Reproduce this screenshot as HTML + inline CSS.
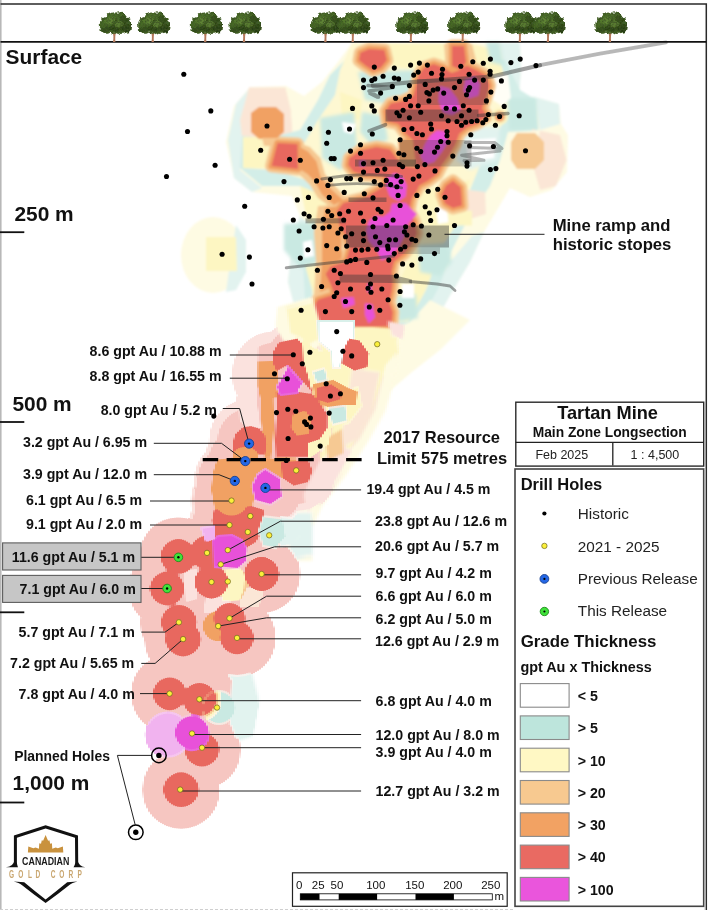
<!DOCTYPE html><html><head><meta charset="utf-8"><title>Tartan Mine Longsection</title>
<style>html,body{margin:0;padding:0;background:#fff}svg{display:block;opacity:0.999;font-family:"Liberation Sans",sans-serif}.b{font-weight:bold}.g{font-size:14.2px;font-weight:bold;fill:#111}.d{font-size:20.9px;font-weight:bold;fill:#111}.l{font-size:15.3px;fill:#222}.ln{stroke:#222;stroke-width:1;fill:none}</style></head><body>
<svg width="710" height="910" viewBox="0 0 710 910">
<defs>
<filter id="bl" x="-5%" y="-5%" width="110%" height="110%"><feGaussianBlur stdDeviation="0.9"/></filter>
<filter id="bl2" x="-5%" y="-5%" width="110%" height="110%"><feGaussianBlur stdDeviation="1.6"/></filter>
<filter id="tb" x="-10%" y="-10%" width="120%" height="120%"><feGaussianBlur stdDeviation="0.45"/></filter>
<filter id="px" x="120" y="292.5" width="290" height="547.5" filterUnits="userSpaceOnUse" primitiveUnits="userSpaceOnUse"><feFlood x="121" y="293.5" width="1" height="1" flood-color="#000"/><feComposite x="120" y="292.5" width="2.5" height="2.5" operator="over"/><feTile x="120" y="292.5" width="290" height="547.5" result="grid"/><feComposite in="SourceGraphic" in2="grid" operator="in"/><feMorphology operator="dilate" radius="1.25"/></filter>
<filter id="leaf" x="-15%" y="-15%" width="130%" height="130%"><feTurbulence type="fractalNoise" baseFrequency="0.22" numOctaves="2" seed="7" result="n"/><feDisplacementMap in="SourceGraphic" in2="n" scale="4.2" xChannelSelector="R" yChannelSelector="G" result="d"/><feTurbulence type="fractalNoise" baseFrequency="0.55" numOctaves="2" seed="3" result="n2"/><feColorMatrix in="n2" type="matrix" values="0 0 0 0 0.05  0 0 0 0 0.09  0 0 0 0 0.02  0 0 0 2.6 -1.0" result="dk"/><feComposite in="dk" in2="d" operator="in" result="dk2"/><feMerge result="m"><feMergeNode in="d"/><feMergeNode in="dk2"/></feMerge><feGaussianBlur in="m" stdDeviation="0.35"/></filter>
<symbol id="tree" viewBox="0 0 34.4 33" width="34.4" height="33" overflow="visible">
<path d="M15.5,32.6 C16.2,28 16.1,25.5 14.8,21.5 L16.8,23.4 L18.9,20.5 C17.8,25 17.5,28 17.9,32.6Z" fill="#b4785a"/>
<g filter="url(#leaf)" transform="translate(-0.4,1.5) scale(1.06,1.0)">
<path d="M3,15 C1.5,10 5,6.5 8.5,6 C10,2.5 15,0.8 18.5,2 C22,0.5 27,3 28,6.5 C32,8 34,12 32.5,16 C33.5,19.5 30,22.5 27,21.5 C25,23.5 21,23 19.5,21.5 C17.5,23.5 14,23 12.5,21.5 C9.5,24 5,22.5 4.5,19.5 C2.5,18.5 2.3,16.5 3,15Z" fill="#3f5d23"/>
<ellipse cx="8.5" cy="14.5" rx="6" ry="5.5" fill="#476928"/>
<ellipse cx="26.5" cy="14.5" rx="6.5" ry="6.5" fill="#2e4718"/>
<ellipse cx="17" cy="6.5" rx="8" ry="4.5" fill="#4b6e2a"/>
<ellipse cx="12" cy="10" rx="4.5" ry="3.5" fill="#5e8336"/>
<ellipse cx="21" cy="12.5" rx="4.2" ry="3.2" fill="#587a31"/>
<ellipse cx="24.5" cy="7.5" rx="3.6" ry="2.8" fill="#34501c"/>
<ellipse cx="16" cy="17.5" rx="5" ry="3.3" fill="#2a4214"/>
<ellipse cx="7.5" cy="18.5" rx="3.6" ry="2.6" fill="#324e1b"/>
<ellipse cx="28" cy="18.5" rx="3.4" ry="2.6" fill="#273d13"/>
<ellipse cx="8.5" cy="10.5" rx="2.6" ry="2" fill="#557a2f"/>
<ellipse cx="29.5" cy="12" rx="2.2" ry="2" fill="#41612a"/>
<ellipse cx="18" cy="10" rx="2" ry="1.6" fill="#2f4a18"/>
</g></symbol>
</defs>
<rect width="710" height="910" fill="#fff"/>
<g filter="url(#bl)">
<polygon points="352.0,43.0 520.0,43.0 521.0,70.0 519.0,96.0 538.0,98.0 559.0,104.0 561.0,124.0 568.0,135.0 567.0,172.0 552.0,190.0 530.0,197.0 510.0,188.0 500.0,205.0 484.0,232.0 470.0,262.0 452.0,292.0 436.0,320.0 420.0,345.0 400.0,372.0 385.0,395.0 340.0,400.0 300.0,380.0 290.0,345.0 296.0,312.0 288.0,282.0 292.0,242.0 300.0,216.0 292.0,196.0 252.0,192.0 234.0,178.0 226.0,142.0 234.0,106.0 250.0,87.0 286.0,86.0 304.0,96.0 322.0,82.0 338.0,62.0" fill="#fefbe3" />
<ellipse cx="213" cy="255" rx="32" ry="38" fill="#fefbe3"/>
<polygon points="236.0,225.0 246.0,240.0 246.0,272.0 236.0,290.0 226.0,292.0 232.0,250.0" fill="#e2f3ef" />
<polygon points="206.0,237.0 236.0,237.0 237.0,271.0 206.0,271.0" fill="#fdf6c2" />
<polygon points="500.0,43.0 520.0,43.0 521.0,70.0 519.0,96.0 538.0,98.0 559.0,104.0 560.0,124.0 540.0,130.0 536.0,100.0 508.0,98.0 505.0,70.0" fill="#e2f3ef" />
<polygon points="228.0,140.0 236.0,104.0 250.0,88.0 246.0,130.0 240.0,170.0 262.0,188.0 252.0,192.0 234.0,178.0" fill="#e2f3ef" />
<polygon points="290.0,345.0 296.0,312.0 288.0,282.0 292.0,242.0 300.0,216.0 310.0,225.0 304.0,260.0 306.0,300.0 302.0,340.0 310.0,372.0 300.0,380.0" fill="#e2f3ef" />
<polygon points="452.0,292.0 470.0,262.0 484.0,232.0 472.0,236.0 450.0,262.0 430.0,300.0 410.0,330.0 395.0,360.0 400.0,372.0 420.0,345.0 436.0,320.0" fill="#e2f3ef" />
<polygon points="249.0,87.5 285.5,87.5 291.0,110.0 293.0,135.0 286.0,142.0 242.0,136.0 240.0,120.0" fill="#fbe6d6" />
<polygon points="285.5,87.5 291.0,110.0 293.0,140.0 300.0,150.0 310.0,140.0 305.0,100.0" fill="#fefbe3" />
<polygon points="345.0,60.0 420.0,55.0 505.0,60.0 520.0,90.0 536.0,100.0 538.0,130.0 508.0,132.0 500.0,160.0 490.0,186.0 470.0,215.0 452.0,250.0 440.0,285.0 420.0,322.0 395.0,330.0 330.0,330.0 305.0,300.0 303.0,262.0 310.0,228.0 320.0,200.0 300.0,186.0 262.0,186.0 240.0,168.0 242.0,136.0 270.0,138.0 300.0,130.0 318.0,100.0 330.0,75.0" fill="#d3eee8" />
<polygon points="352.0,43.0 470.0,43.0 498.0,50.0 505.0,80.0 512.0,110.0 500.0,128.0 486.0,150.0 470.0,190.0 458.0,218.0 440.0,250.0 426.0,290.0 408.0,322.0 335.0,325.0 312.0,300.0 314.0,262.0 320.0,232.0 330.0,200.0 306.0,180.0 274.0,170.0 243.0,168.0 243.0,137.0 274.0,137.0 300.0,150.0 318.0,120.0 335.0,95.0 340.0,70.0" fill="#fef8d2" />
<polygon points="340.0,92.0 362.0,100.0 360.0,120.0 342.0,118.0" fill="#fdf6c2" />
<polygon points="386.0,44.0 452.0,44.0 450.0,62.0 420.0,70.0 392.0,66.0" fill="#fdf6c2" />
<polygon points="470.0,44.0 498.0,50.0 504.0,80.0 492.0,74.0 470.0,62.0" fill="#fdf6c2" />
<polygon points="420.0,190.0 470.0,180.0 462.0,215.0 440.0,250.0 428.0,285.0 410.0,320.0 395.0,320.0 400.0,280.0 418.0,240.0" fill="#fdf6c2" />
<polygon points="300.0,186.0 330.0,198.0 322.0,232.0 316.0,262.0 314.0,296.0 304.0,262.0 308.0,225.0" fill="#fdf6c2" />
<polygon points="470.0,320.0 440.0,350.0 412.0,372.0 385.0,395.0 345.0,398.0 350.0,360.0 380.0,335.0 410.0,322.0 430.0,300.0" fill="#fefbe3" />
<polygon points="243.0,137.0 274.0,137.0 274.0,168.0 243.0,168.0" fill="#fdf6c2" />
<g filter="url(#bl2)">
<polygon points="358.0,72.0 420.0,70.0 424.0,100.0 400.0,106.0 365.0,100.0" fill="#c9e9e2" />
<polygon points="362.0,112.0 384.0,116.0 388.0,140.0 372.0,146.0 360.0,132.0" fill="#c9e9e2" />
<polygon points="320.0,118.0 354.0,112.0 358.0,160.0 340.0,170.0 322.0,158.0" fill="#c9e9e2" />
<polygon points="418.0,245.0 448.0,243.0 452.0,262.0 440.0,276.0 420.0,272.0" fill="#c9e9e2" />
<polygon points="396.0,296.0 416.0,294.0 418.0,318.0 398.0,322.0" fill="#c9e9e2" />
<polygon points="284.0,224.0 318.0,222.0 322.0,262.0 300.0,268.0 284.0,250.0" fill="#c9e9e2" />
<polygon points="507.0,98.0 536.0,98.0 538.0,130.0 509.0,130.0" fill="#c9e9e2" />
<polygon points="486.0,42.0 500.0,42.0 504.0,66.0 490.0,62.0" fill="#c9e9e2" />
<polygon points="462.0,128.0 500.0,126.0 498.0,160.0 470.0,170.0 456.0,160.0" fill="#e2f3ef" />
</g>
<polygon points="342.0,122.0 356.0,124.0 352.0,134.0 344.0,132.0" fill="#fff" />
<polygon points="303.0,242.0 312.0,240.0 314.0,256.0 304.0,258.0" fill="#fff" />
<polygon points="436.0,208.0 448.0,206.0 450.0,222.0 438.0,224.0" fill="#fff" />
<polygon points="402.0,284.0 414.0,284.0 414.0,298.0 402.0,298.0" fill="#fff" />
<polygon points="466.0,140.0 496.0,138.0 494.0,158.0 468.0,162.0" fill="#fff" />
<polygon points="495.0,76.0 508.0,74.0 511.0,98.0 502.0,106.0 493.0,100.0" fill="#fffef6" />
<polygon points="461.0,189.0 485.0,192.0 486.0,214.0 470.0,219.0 461.0,210.0" fill="#fbe6d6" />
<polygon points="447.0,210.7 472.0,210.7 472.0,225.4 449.0,225.4" fill="#fdf6c2" />
<polygon points="532.0,129.0 560.0,135.0 566.5,160.0 556.0,186.0 540.0,190.0 534.0,170.0" fill="#fbe6d6" />
<polygon points="511.0,133.0 540.0,130.0 534.0,170.0 540.0,190.0 515.0,188.0 508.0,165.0" fill="#fefbe3" />
<polygon points="517.0,133.0 535.0,133.0 544.0,142.0 544.0,160.0 535.0,169.0 517.0,169.0 511.0,160.0 511.0,142.0" fill="#f6c993" />
<polygon points="423.7,67.9 433.8,64.1 444.0,67.9 451.6,73.0 459.2,70.4 466.8,65.4 476.9,70.4 485.8,75.5 489.6,85.6 485.8,98.3 482.0,108.5 487.0,116.0 476.9,123.7 466.8,127.5 459.2,133.8 455.2,144.8 448.5,156.0 441.7,165.0 437.2,174.0 428.2,180.8 419.2,185.4 416.9,190.4 411.8,198.0 409.3,210.7 414.4,220.9 416.9,233.5 411.8,243.7 404.2,253.8 394.1,261.4 391.6,271.6 392.8,281.7 391.6,291.8 389.0,302.0 392.8,312.1 391.6,326.1 368.7,327.3 323.1,327.3 313.0,324.8 313.0,307.1 318.0,299.5 334.5,294.4 330.7,284.2 325.6,274.1 330.7,266.5 345.9,261.4 349.7,248.7 345.9,236.1 339.6,225.9 337.0,210.7 343.4,203.1 363.7,198.0 381.4,187.9 386.0,180.0 383.1,176.3 365.1,175.2 353.8,171.8 348.2,165.1 349.3,158.3 360.6,150.4 376.3,147.0 389.9,149.3 396.6,158.3 404.0,166.0 416.0,168.0 415.0,158.0 413.0,140.0 405.0,133.0 398.3,123.7 386.9,121.1 385.6,111.0 390.7,103.4 403.4,100.9 413.5,95.8 416.1,85.6 418.6,75.5" fill="#f6c993" stroke="#f6c993" stroke-width="13" stroke-linejoin="round"/>
<polygon points="360.3,52.7 369.2,48.9 384.4,50.1 386.9,60.3 380.6,67.9 373.0,70.4 365.4,65.4 359.0,60.3" fill="#f6c993" stroke="#f6c993" stroke-width="13" stroke-linejoin="round"/>
<polygon points="452.0,46.0 464.0,46.0 466.0,62.0 461.0,70.0 452.0,66.0" fill="#f6c993" stroke="#f6c993" stroke-width="13" stroke-linejoin="round"/>
<polygon points="277.5,143.0 297.5,144.0 298.0,169.0 271.5,166.0" fill="#f6c993" stroke="#f6c993" stroke-width="13" stroke-linejoin="round"/>
<polygon points="453.0,180.8 460.8,187.6 462.0,205.6 453.0,207.9 445.1,203.4 441.7,194.4 446.2,185.4" fill="#f6c993" stroke="#f6c993" stroke-width="13" stroke-linejoin="round"/>
<polygon points="296.0,142.0 310.0,147.0 320.5,158.0 325.0,174.0 335.0,186.0 347.0,198.0 332.0,208.0 318.0,198.0 310.0,185.0 303.0,178.0 296.0,172.0" fill="#f6c993" />
<polygon points="318.0,206.0 340.0,204.0 342.0,262.0 328.0,270.0 326.0,292.0 314.0,296.0 316.0,262.0 314.0,232.0" fill="#f6c993" />
<polygon points="444.0,44.0 472.0,44.0 476.0,60.0 470.0,72.0 446.0,70.0" fill="#f6c993" />
<polygon points="251.0,113.0 259.0,107.0 276.0,107.0 284.0,114.0 284.0,132.0 276.0,139.0 259.0,139.0 251.0,132.0" fill="#f1a164" />
<polygon points="262.0,138.0 282.0,138.0 280.0,146.0 264.0,146.0" fill="#f6c993" />
<circle cx="499.7" cy="116.5" r="8.5" fill="#fdf6c2" />
<circle cx="499.7" cy="116.5" r="6" fill="#f6c993" />
<circle cx="499.7" cy="116.5" r="4.2" fill="#f1a164" />
<polygon points="423.7,67.9 433.8,64.1 444.0,67.9 451.6,73.0 459.2,70.4 466.8,65.4 476.9,70.4 485.8,75.5 489.6,85.6 485.8,98.3 482.0,108.5 487.0,116.0 476.9,123.7 466.8,127.5 459.2,133.8 455.2,144.8 448.5,156.0 441.7,165.0 437.2,174.0 428.2,180.8 419.2,185.4 416.9,190.4 411.8,198.0 409.3,210.7 414.4,220.9 416.9,233.5 411.8,243.7 404.2,253.8 394.1,261.4 391.6,271.6 392.8,281.7 391.6,291.8 389.0,302.0 392.8,312.1 391.6,326.1 368.7,327.3 323.1,327.3 313.0,324.8 313.0,307.1 318.0,299.5 334.5,294.4 330.7,284.2 325.6,274.1 330.7,266.5 345.9,261.4 349.7,248.7 345.9,236.1 339.6,225.9 337.0,210.7 343.4,203.1 363.7,198.0 381.4,187.9 386.0,180.0 383.1,176.3 365.1,175.2 353.8,171.8 348.2,165.1 349.3,158.3 360.6,150.4 376.3,147.0 389.9,149.3 396.6,158.3 404.0,166.0 416.0,168.0 415.0,158.0 413.0,140.0 405.0,133.0 398.3,123.7 386.9,121.1 385.6,111.0 390.7,103.4 403.4,100.9 413.5,95.8 416.1,85.6 418.6,75.5" fill="#f1a164" stroke="#f1a164" stroke-width="6.5" stroke-linejoin="round"/>
<polygon points="360.3,52.7 369.2,48.9 384.4,50.1 386.9,60.3 380.6,67.9 373.0,70.4 365.4,65.4 359.0,60.3" fill="#f1a164" stroke="#f1a164" stroke-width="6.5" stroke-linejoin="round"/>
<polygon points="452.0,46.0 464.0,46.0 466.0,62.0 461.0,70.0 452.0,66.0" fill="#f1a164" stroke="#f1a164" stroke-width="6.5" stroke-linejoin="round"/>
<polygon points="277.5,143.0 297.5,144.0 298.0,169.0 271.5,166.0" fill="#f1a164" stroke="#f1a164" stroke-width="6.5" stroke-linejoin="round"/>
<polygon points="453.0,180.8 460.8,187.6 462.0,205.6 453.0,207.9 445.1,203.4 441.7,194.4 446.2,185.4" fill="#f1a164" stroke="#f1a164" stroke-width="6.5" stroke-linejoin="round"/>
<polygon points="297.8,146.0 308.0,151.5 316.5,161.5 320.5,176.4 331.0,188.9 343.0,200.0 334.0,205.0 322.0,194.5 315.0,182.0 307.5,174.0 297.8,168.0" fill="#f1a164" />
<polygon points="325.0,208.0 340.0,206.0 342.0,258.0 330.0,266.0 330.0,288.0 320.0,292.0 322.0,262.0 322.0,232.0" fill="#f1a164" />
<polygon points="398.0,140.0 416.0,138.0 418.0,168.0 400.0,166.0" fill="#f1a164" />
<polygon points="423.7,67.9 433.8,64.1 444.0,67.9 451.6,73.0 459.2,70.4 466.8,65.4 476.9,70.4 485.8,75.5 489.6,85.6 485.8,98.3 482.0,108.5 487.0,116.0 476.9,123.7 466.8,127.5 459.2,133.8 455.2,144.8 448.5,156.0 441.7,165.0 437.2,174.0 428.2,180.8 419.2,185.4 416.9,190.4 411.8,198.0 409.3,210.7 414.4,220.9 416.9,233.5 411.8,243.7 404.2,253.8 394.1,261.4 391.6,271.6 392.8,281.7 391.6,291.8 389.0,302.0 392.8,312.1 391.6,326.1 368.7,327.3 323.1,327.3 313.0,324.8 313.0,307.1 318.0,299.5 334.5,294.4 330.7,284.2 325.6,274.1 330.7,266.5 345.9,261.4 349.7,248.7 345.9,236.1 339.6,225.9 337.0,210.7 343.4,203.1 363.7,198.0 381.4,187.9 386.0,180.0 383.1,176.3 365.1,175.2 353.8,171.8 348.2,165.1 349.3,158.3 360.6,150.4 376.3,147.0 389.9,149.3 396.6,158.3 404.0,166.0 416.0,168.0 415.0,158.0 413.0,140.0 405.0,133.0 398.3,123.7 386.9,121.1 385.6,111.0 390.7,103.4 403.4,100.9 413.5,95.8 416.1,85.6 418.6,75.5" fill="#e8685f" />
<polygon points="360.3,52.7 369.2,48.9 384.4,50.1 386.9,60.3 380.6,67.9 373.0,70.4 365.4,65.4 359.0,60.3" fill="#e8685f" />
<polygon points="452.0,46.0 464.0,46.0 466.0,62.0 461.0,70.0 452.0,66.0" fill="#e8685f" />
<polygon points="277.5,143.0 297.5,144.0 298.0,169.0 271.5,166.0" fill="#e8685f" />
<polygon points="453.0,180.8 460.8,187.6 462.0,205.6 453.0,207.9 445.1,203.4 441.7,194.4 446.2,185.4" fill="#e8685f" />
<circle cx="499.7" cy="116.8" r="2.6" fill="#e8685f" />
<polygon points="439.5,86.0 449.5,88.5 457.5,99.0 460.5,110.0 452.0,115.0 443.0,112.5 438.5,101.0" fill="#e851d9" />
<polygon points="465.0,79.5 474.5,76.5 480.0,84.0 478.5,95.5 469.0,98.5 463.5,91.0" fill="#e851d9" />
<polygon points="437.0,130.5 446.0,131.5 448.0,142.5 441.5,152.5 434.0,162.0 425.0,164.5 420.5,156.5 425.0,144.0 430.5,135.5" fill="#e851d9" />
<polygon points="386.5,178.6 394.4,173.0 402.3,176.3 406.8,185.4 405.6,196.6 398.9,201.1 389.9,196.6 386.5,187.6" fill="#e851d9" />
<polygon points="392.0,203.5 405.6,203.0 412.4,210.0 416.9,214.0 408.0,224.0 404.2,236.1 399.2,246.2 391.6,256.3 381.4,260.2 376.3,248.7 368.7,241.1 366.2,231.0 368.7,220.9 376.3,216.0 383.0,217.0 390.0,212.0" fill="#e851d9" />
<polygon points="359.4,160.6 365.0,160.6 365.0,166.2 359.4,166.2" fill="#e851d9" />
<polygon points="340.9,298.2 353.5,296.9 354.8,304.5 343.4,308.3" fill="#e851d9" />
<polygon points="364.9,303.3 372.5,304.5 375.1,317.2 368.7,323.5 364.9,314.7" fill="#e851d9" />
<polygon points="367.5,284.0 371.5,284.0 371.5,292.0 367.5,292.0" fill="#e851d9" />
</g>
<g filter="url(#px)">
<g filter="url(#bl2)">
<polygon points="345.0,330.0 400.0,338.0 396.0,372.0 385.0,410.0 368.0,440.0 345.0,475.0 322.0,505.0 310.0,530.0 312.0,560.0 280.0,560.0 290.0,480.0 310.0,400.0" fill="#fefbe3" />
<polygon points="350.0,372.0 384.0,375.0 376.0,410.0 360.0,440.0 340.0,462.0 322.0,440.0 340.0,400.0" fill="#fbe6d6" />
<polygon points="286.0,512.0 312.0,512.0 312.0,555.0 290.0,560.0" fill="#e2f3ef" />
<polygon points="226.0,668.0 250.0,668.0 258.0,700.0 252.0,735.0 232.0,742.0 228.0,705.0" fill="#e2f3ef" />
</g>
<circle cx="293.7" cy="354.3" r="31" fill="#fbe2de" />
<circle cx="274.6" cy="374.4" r="42" fill="#fbe2de" />
<circle cx="276.6" cy="412" r="42" fill="#fbe2de" />
<circle cx="287.9" cy="438.5" r="40" fill="#fbe2de" />
<circle cx="249.8" cy="440.3" r="40" fill="#fbe2de" />
<circle cx="245.3" cy="461.1" r="40" fill="#fbe2de" />
<circle cx="234.8" cy="480.9" r="40" fill="#fbe2de" />
<circle cx="231.5" cy="500.5" r="40" fill="#fbe2de" />
<circle cx="265.4" cy="487.9" r="40" fill="#fbe2de" />
<circle cx="296.2" cy="472" r="40" fill="#fbe2de" />
<circle cx="250.3" cy="516" r="40" fill="#fbe2de" />
<circle cx="229.5" cy="525" r="40" fill="#fbe2de" />
<circle cx="247.8" cy="531.8" r="40" fill="#fbe2de" />
<circle cx="227.8" cy="550.1" r="40" fill="#fbe2de" />
<circle cx="220.7" cy="564.4" r="40" fill="#fbe2de" />
<circle cx="192" cy="733.5" r="40" fill="#fbe2de" />
<circle cx="305" cy="420" r="42" fill="#fbe2de" />
<circle cx="300" cy="380" r="42" fill="#fbe2de" />
<circle cx="245.3" cy="463" r="38" fill="#f6c6c1" />
<circle cx="234.8" cy="480.9" r="38" fill="#f6c6c1" />
<circle cx="231.5" cy="498" r="38" fill="#f6c6c1" />
<circle cx="207" cy="552.6" r="38" fill="#f6c6c1" />
<circle cx="178.4" cy="556.4" r="38" fill="#f6c6c1" />
<circle cx="167.1" cy="588.5" r="38" fill="#f6c6c1" />
<circle cx="211.5" cy="582" r="38" fill="#f6c6c1" />
<circle cx="261.6" cy="574" r="38" fill="#f6c6c1" />
<circle cx="218.2" cy="626.1" r="38" fill="#f6c6c1" />
<circle cx="178.9" cy="622.3" r="38" fill="#f6c6c1" />
<circle cx="183.1" cy="639.1" r="38" fill="#f6c6c1" />
<circle cx="229.5" cy="618.3" r="38" fill="#f6c6c1" />
<circle cx="237" cy="637.9" r="38" fill="#f6c6c1" />
<circle cx="169.7" cy="693.8" r="38" fill="#f6c6c1" />
<circle cx="199.5" cy="699.4" r="38" fill="#f6c6c1" />
<circle cx="202" cy="749.6" r="38" fill="#f6c6c1" />
<circle cx="181.1" cy="789.7" r="38" fill="#f6c6c1" />
<circle cx="293.7" cy="354.3" r="26" fill="#f6c6c1" />
<circle cx="274.6" cy="374.4" r="33" fill="#f6c6c1" />
<circle cx="276.6" cy="412" r="33" fill="#f6c6c1" />
<circle cx="287.9" cy="438.5" r="33" fill="#f6c6c1" />
<circle cx="249.8" cy="440.3" r="33" fill="#f6c6c1" />
<circle cx="245.3" cy="461.1" r="33" fill="#f6c6c1" />
<circle cx="234.8" cy="480.9" r="38" fill="#f6c6c1" />
<circle cx="231.5" cy="500.5" r="38" fill="#f6c6c1" />
<circle cx="265.4" cy="487.9" r="38" fill="#f6c6c1" />
<circle cx="296.2" cy="472" r="33" fill="#f6c6c1" />
<circle cx="250.3" cy="516" r="38" fill="#f6c6c1" />
<circle cx="229.5" cy="525" r="38" fill="#f6c6c1" />
<circle cx="247.8" cy="531.8" r="38" fill="#f6c6c1" />
<circle cx="227.8" cy="550.1" r="38" fill="#f6c6c1" />
<circle cx="220.7" cy="564.4" r="38" fill="#f6c6c1" />
<circle cx="192" cy="733.5" r="38" fill="#f6c6c1" />
<circle cx="305" cy="420" r="33" fill="#f6c6c1" />
<circle cx="300" cy="380" r="33" fill="#f6c6c1" />
<polygon points="184.0,572.0 196.0,570.0 197.0,598.0 186.0,601.0" fill="#fbe2de" />
<polygon points="206.0,599.0 232.0,597.0 224.0,612.0 204.0,612.0" fill="#fbe2de" />
<polygon points="236.0,356.0 258.0,340.0 256.0,400.0 262.0,440.0 240.0,420.0" fill="#fbe2de" />
<g filter="url(#bl)">
<polygon points="278.0,308.0 312.0,298.0 320.0,326.0 324.0,340.0 312.0,352.0 298.0,340.0 284.0,340.0 276.0,326.0" fill="#fefbe3" />
<polygon points="286.0,308.0 312.0,302.0 319.0,326.0 322.0,338.0 308.0,346.0 300.0,338.0 290.0,334.0" fill="#fdf6c2" />
<polygon points="318.0,340.0 345.0,328.0 372.0,328.0 396.0,330.0 398.0,352.0 386.0,366.0 382.0,380.0 372.0,410.0 356.0,440.0 340.0,462.0 328.0,478.0 320.0,455.0 332.0,430.0 340.0,400.0 330.0,372.0" fill="#fdf6c2" />
<polygon points="388.0,322.0 404.0,326.0 402.0,338.0 392.0,336.0" fill="#fbe2de" />
<polygon points="320.0,462.0 340.0,442.0 352.0,452.0 338.0,478.0 322.0,500.0 308.0,512.0 304.0,495.0" fill="#fbe2de" />
<polygon points="352.0,368.0 380.0,372.0 372.0,410.0 356.0,440.0 340.0,450.0 345.0,410.0" fill="#fbe6d6" />
<polygon points="324.0,438.0 342.0,428.0 344.0,454.0 328.0,462.0" fill="#f6c993" />
</g>
<polygon points="232.0,680.0 250.0,678.0 258.0,705.0 252.0,735.0 236.0,738.0 230.0,720.0" fill="#e2f3ef" />
<polygon points="240.0,588.0 264.0,590.0 258.0,606.0 240.0,606.0" fill="#fbe6d6" />
<g filter="url(#tb)">
<polygon points="303.0,339.5 320.1,350.9 337.2,347.1 342.9,364.2 338.4,381.3 342.9,390.8 358.1,387.0 361.9,406.0 348.6,423.2 331.5,427.0 327.7,444.1 308.7,457.4 308.7,444.1 327.7,428.9 329.6,411.7 316.3,400.3 312.5,392.7 303.0,383.2" fill="#fdf6c2" />
<polygon points="317.0,321.0 355.0,321.0 355.0,341.0 346.0,351.0 340.0,368.0 332.0,368.0 331.0,352.0 318.0,341.0" fill="#d9f0ea" />
<polygon points="319.6,323.0 352.5,323.0 352.5,340.0 344.0,349.5 338.5,366.0 333.5,366.0 332.0,350.0 319.6,340.0" fill="#fff" />
<polygon points="312.5,371.8 324.7,368.0 328.5,383.2 318.2,387.8" fill="#c9e9e2" />
<polygon points="327.7,406.0 345.2,404.1 347.5,421.3 332.3,425.1" fill="#c9e9e2" />
<polygon points="257.4,360.4 277.5,359.7 278.3,387.0 281.3,395.4 273.7,399.2 274.5,425.1 273.0,444.1 271.4,457.8 263.8,457.8 263.1,440.3 261.2,424.3 260.0,399.2 257.4,387.0" fill="#f1a164" />
<polygon points="312.5,383.2 333.4,378.7 348.6,387.0 358.1,390.8 356.6,406.0 342.9,406.0 327.7,407.9 314.8,404.1" fill="#f1a164" />
<polygon points="216.7,458.5 244.1,456.2 271.4,457.8 297.3,458.5 297.3,474.5 282.1,479.0 259.3,474.5 252.4,508.7 214.4,510.2 210.6,489.7 212.9,470.7" fill="#f1a164" />
<polygon points="278.3,341.4 297.3,337.6 303.0,343.3 303.8,360.4 308.7,375.6 313.3,394.6 303.0,383.2 287.8,366.1 276.4,372.6 272.6,364.2 272.6,350.9" fill="#e8685f" />
<polygon points="275.6,390.8 282.1,393.9 297.3,390.8 312.5,393.1 320.1,402.2 327.7,413.7 327.7,428.9 320.1,440.3 308.7,444.1 308.7,457.8 275.6,457.8 274.9,440.3 275.6,425.1 276.4,409.8" fill="#e8685f" />
<polygon points="293.5,415.6 304.9,411.7 310.6,419.4 308.7,432.7 297.3,434.6 291.6,427.0" fill="#f1a164" />
<polygon points="316.3,387.0 331.5,383.2 342.9,390.8 341.0,400.3 327.7,404.1 316.3,400.3" fill="#e8685f" />
<polygon points="348.6,337.6 360.0,339.5 369.5,352.8 367.6,368.0 354.3,371.8 341.0,364.2 342.9,349.0" fill="#e8685f" />
<polygon points="231.9,444.1 234.6,433.4 242.2,426.6 250.9,425.1 259.3,427.3 265.4,434.6 267.3,444.1 265.4,455.5 233.4,455.5" fill="#e8685f" />
<polygon points="280.2,461.2 308.7,459.3 313.3,470.7 308.7,482.9 293.5,486.7 282.1,479.0" fill="#e8685f" />
<polygon points="213.7,508.7 251.7,504.9 263.8,508.7 265.4,527.7 256.2,542.9 244.1,550.5 229.6,537.6 213.7,537.6 211.4,520.1" fill="#e8685f" />
<polygon points="280.2,517.1 297.3,518.6 300.3,535.3 289.7,545.2 280.2,546.7" fill="#e2f3ef" />
<polygon points="263.8,516.3 282.9,518.6 285.9,537.2 276.0,548.3 263.1,546.0 258.5,531.5" fill="#c9e9e2" />
</g>
<circle cx="245.3" cy="463" r="15" fill="#f1a164" />
<circle cx="234.8" cy="480.9" r="16.5" fill="#f1a164" />
<circle cx="231.5" cy="498" r="16.5" fill="#f1a164" />
<circle cx="207" cy="552.6" r="17.9" fill="#e8685f" />
<circle cx="178.4" cy="556.4" r="18.4" fill="#e8685f" />
<circle cx="167.1" cy="588.5" r="17.9" fill="#e8685f" />
<circle cx="211.5" cy="582" r="17.4" fill="#e8685f" />
<circle cx="261.6" cy="574" r="17.9" fill="#e8685f" />
<circle cx="218.2" cy="626.1" r="16" fill="#f1a164" />
<circle cx="178.9" cy="622.3" r="18.4" fill="#e8685f" />
<circle cx="183.1" cy="639.1" r="18.4" fill="#e8685f" />
<circle cx="229.5" cy="618.3" r="16.4" fill="#e8685f" />
<circle cx="237" cy="637.9" r="17.4" fill="#e8685f" />
<circle cx="219" cy="707.6" r="16.5" fill="#c9e9e2" />
<circle cx="169.7" cy="693.8" r="17.4" fill="#e8685f" />
<circle cx="199.5" cy="699.4" r="17.4" fill="#e8685f" />
<circle cx="202" cy="749.6" r="17.9" fill="#e8685f" />
<circle cx="181.1" cy="789.7" r="18.4" fill="#e8685f" />
<polygon points="218.2,570.9 240.8,569.2 248.8,575.2 247.8,587.7 241.8,599.8 223.3,600.8 217.7,587.7" fill="#f6c993" />
<polygon points="218.2,570.9 240.3,569.4 244.3,575.2 243.3,587.7 239.3,599.3 223.3,600.8 217.7,587.7" fill="#fdf6c2" />
<circle cx="211.5" cy="582" r="17.4" fill="#e8685f" />
<circle cx="261.6" cy="574" r="17.9" fill="#e8685f" />
<clipPath id="tc"><circle cx="219" cy="707.6" r="16.5"/></clipPath>
<g clip-path="url(#tc)"><circle cx="199.5" cy="699.4" r="21.5" fill="#fdf6c2" /><circle cx="199.5" cy="699.4" r="19.5" fill="#f6c993" /><circle cx="199.5" cy="699.4" r="17.4" fill="#e8685f" /></g>
<polygon points="201.0,528.0 214.0,526.0 215.0,538.0 206.0,541.0" fill="#f1b3ef" />
<polygon points="287.8,366.1 303.0,383.2 297.3,393.1 280.2,395.0 276.4,387.0" fill="#e851d9" />
<polygon points="265.0,468.8 280.2,478.3 282.1,497.3 270.7,504.9 255.5,501.1 251.7,485.9 257.4,474.5" fill="#e851d9" />
<polygon points="213.0,540.0 218.0,536.0 232.0,535.0 242.0,540.0 247.5,550.0 246.0,562.0 238.0,569.0 214.0,567.0" fill="#e851d9" />
<circle cx="167.7" cy="734.6" r="22" fill="#f1b3ef" />
<circle cx="202" cy="749.6" r="17" fill="#e8685f" />
<circle cx="192" cy="732.7" r="17.5" fill="#e851d9" />
</g>
<g fill="#3a3a3a" fill-opacity="0.27" filter="url(#tb)">
<rect x="417" y="79" width="71" height="26"/>
<rect x="399.5" y="140" width="72" height="26.5"/>
<rect x="398" y="247.5" width="42" height="6.5"/>
</g>
<g fill="#3a3a3a" fill-opacity="0.42" filter="url(#tb)">
<rect x="385.5" y="109.5" width="93" height="12"/>
<rect x="355" y="159.5" width="61" height="7"/>
<rect x="346" y="225.5" width="103" height="22"/>
<rect x="348.5" y="197.5" width="38" height="4.5"/>
<rect x="305.5" y="218.3" width="40.5" height="5"/>
<polygon points="339.6,274.5 392,274.8 412,279.5 412,283.5 392,283 339.6,282.5"/>
</g>
<g fill="none" stroke="#3a3a3a" stroke-opacity="0.48" stroke-linecap="round" stroke-linejoin="round" filter="url(#tb)">
<path d="M666,42.3 L600,53.6 L540,65.2" stroke-width="3.8" stroke-opacity="0.36"/><path d="M540,65.2 L492,76.5 L418.5,81.6 L372.8,85.6" stroke-width="4.2"/>
<path d="M368,85.5 L393,87.5 L369,91 L378.5,97 M370,93.5 L377,97" stroke-width="3.6"/>
<path d="M478.5,115.5 L508,113.5" stroke-width="3.4"/>
<path d="M369,131 L385.5,124.7" stroke-width="3.6"/>
<path d="M465.4,142.5 L494.5,142.5 L502,148.5 L469,147.5 M500,151 L461.6,155.2 L484,160.3 L464,160.6" stroke-width="3.1" stroke-opacity="0.36"/>
<path d="M321.8,179 Q360,172 401.7,176.5 M328,185.4 Q365,181 401.7,187.9" stroke-width="2.8"/>
<path d="M286.3,267.8 L353.5,260.2 L394,256" stroke-width="3"/>
<path d="M410,281.5 L437,284 L450,286 L455,290.5" stroke-width="2.8"/>
</g>
<rect x="0.3" y="0" width="1.1" height="910" fill="#9a9a9a"/>
<path d="M0.5,3.9H706.3V910" fill="none" stroke="#2a2a2a" stroke-width="1.5"/>
<line x1="0.5" y1="41.9" x2="706.3" y2="41.9" stroke="#111" stroke-width="1.7"/>
<line x1="0" y1="909.5" x2="515" y2="909.5" stroke="#cfcfcf" stroke-width="1" stroke-dasharray="3 2"/>
<use href="#tree" x="97.5" y="9.5"/>
<use href="#tree" x="136.0" y="9.5"/>
<use href="#tree" x="188.5" y="9.5"/>
<use href="#tree" x="227.3" y="9.5"/>
<use href="#tree" x="308.7" y="9.5"/>
<use href="#tree" x="336.0" y="9.5"/>
<use href="#tree" x="394.1" y="9.5"/>
<use href="#tree" x="445.9" y="9.5"/>
<use href="#tree" x="503.1" y="9.5"/>
<use href="#tree" x="531.2" y="9.5"/>
<use href="#tree" x="593.2" y="9.5"/>
<text class="d" x="5.6" y="64.3">Surface</text>
<text class="d" x="14.4" y="221.3">250 m</text>
<text class="d" x="12.4" y="411.2">500 m</text>
<text class="d" x="12.6" y="790.2">1,000 m</text>
<line x1="0" y1="232.2" x2="24.3" y2="232.2" stroke="#111" stroke-width="1.8"/>
<line x1="0" y1="422" x2="24.3" y2="422" stroke="#111" stroke-width="1.8"/>
<line x1="0" y1="612.3" x2="24.3" y2="612.3" stroke="#111" stroke-width="1.8"/>
<line x1="0" y1="802.5" x2="24.3" y2="802.5" stroke="#111" stroke-width="1.8"/>
<rect x="2.6" y="542.9" width="138.4" height="27.1" fill="#c6c6c6" stroke="#5e5e5e" stroke-width="1.1"/>
<rect x="2.6" y="575.4" width="138.4" height="27.0" fill="#c6c6c6" stroke="#5e5e5e" stroke-width="1.1"/>
<text class="g" x="89.6" y="356.4">8.6 gpt Au / 10.88 m</text>
<text class="g" x="89.6" y="380.7">8.8 gpt Au / 16.55 m</text>
<text class="g" x="100.7" y="414.5">8.0 gpt Au / 5.2 m</text>
<text class="g" x="23" y="446.6">3.2 gpt Au / 6.95 m</text>
<text class="g" x="23" y="478.7">3.9 gpt Au / 12.0 m</text>
<text class="g" x="26" y="504.6">6.1 gpt Au / 6.5 m</text>
<text class="g" x="26" y="528.7">9.1 gpt Au / 2.0 m</text>
<text class="g" x="18.6" y="636.9">5.7 gpt Au / 7.1 m</text>
<text class="g" x="10.1" y="668">7.2 gpt Au / 5.65 m</text>
<text class="g" x="18.6" y="699.3">7.8 gpt Au / 4.0 m</text>
<text class="g" x="366.4" y="493.8">19.4 gpt Au / 4.5 m</text>
<text class="g" x="375.1" y="525.5">23.8 gpt Au / 12.6 m</text>
<text class="g" x="375.1" y="551.1">20.6 gpt Au / 5.7 m</text>
<text class="g" x="375.6" y="577.7">9.7 gpt Au / 4.2 m</text>
<text class="g" x="375.6" y="601.4">6.6 gpt Au / 6.0 m</text>
<text class="g" x="375.6" y="624.4">6.2 gpt Au / 5.0 m</text>
<text class="g" x="375.1" y="645.5">12.6 gpt Au / 2.9 m</text>
<text class="g" x="375.6" y="705.6">6.8 gpt Au / 4.0 m</text>
<text class="g" x="375.6" y="740.2">12.0 gpt Au / 8.0 m</text>
<text class="g" x="375.6" y="757.3">3.9 gpt Au / 4.0 m</text>
<text class="g" x="375.6" y="796.3">12.7 gpt Au / 3.2 m</text>
<text class="g" x="11.8" y="561.5">11.6 gpt Au / 5.1 m</text>
<text class="g" x="19.6" y="594.2">7.1 gpt Au / 6.0 m</text>
<text x="14.2" y="761" font-size="13.9" font-weight="bold" fill="#111">Planned Holes</text>
<text x="383.5" y="443.2" font-size="16.5" font-weight="bold" fill="#111">2017 Resource</text>
<text x="376.9" y="463.5" font-size="16.5" font-weight="bold" fill="#111">Limit 575 metres</text>
<text x="552.7" y="230.5" font-size="16.7" font-weight="bold" fill="#111">Mine ramp and</text>
<text x="552.7" y="250" font-size="16.7" font-weight="bold" fill="#111">historic stopes</text>
<g class="ln">
<path d="M444.5,234.3H544.5"/>
<path d="M229.8,355H293.7"/><path d="M229.8,378.2H287.2"/>
<path d="M222.8,408.5H239.6L249.1,443.6"/>
<path d="M153.8,443.3H221.5L245.3,461.1"/>
<path d="M153.8,474.7H219L234.8,480.9"/>
<path d="M150,501H231.5"/><path d="M150,525H229.5"/>
<path d="M141.3,557.3H178.4"/><path d="M141.3,588.5H167.1"/>
<path d="M141.3,632.1H165.1L178.9,622.3"/>
<path d="M141.3,663.4H155.1L183.1,639.1"/>
<path d="M140,693.6H169.6"/>
<path d="M265.4,489.9H361.1"/>
<path d="M361.1,521.2H280.4L227.8,550.1"/>
<path d="M361.1,546.8H274.6L220.7,564.4"/>
<path d="M361.1,574.8H261.6"/>
<path d="M361.1,596.2H266.6L229.5,618.3"/>
<path d="M361.1,617.8H266.6L218.2,626.1"/>
<path d="M361.1,638.8H237"/>
<path d="M361.1,700.7H199.4"/>
<path d="M361.1,734.5H192"/>
<path d="M361.1,747.7H202"/>
<path d="M361.1,791H180.2"/>
<path d="M151.5,755.4H117.4L135.2,824.8"/>
</g>
<line x1="202.7" y1="459.6" x2="361.7" y2="459.6" stroke="#000" stroke-width="3.4" stroke-dasharray="15.5 8.4"/>
<g fill="#000">
<circle cx="183.8" cy="74.3" r="2.55"/>
<circle cx="210.8" cy="110.9" r="2.55"/>
<circle cx="187.5" cy="131.5" r="2.55"/>
<circle cx="215.1" cy="165.3" r="2.55"/>
<circle cx="244.7" cy="206.2" r="2.55"/>
<circle cx="222.1" cy="254.3" r="2.55"/>
<circle cx="249.4" cy="257.1" r="2.55"/>
<circle cx="267" cy="126" r="2.55"/>
<circle cx="260.7" cy="150.3" r="2.55"/>
<circle cx="289.6" cy="159.3" r="2.55"/>
<circle cx="300.3" cy="160.3" r="2.55"/>
<circle cx="309.9" cy="128.7" r="2.55"/>
<circle cx="284" cy="181.6" r="2.55"/>
<circle cx="297.3" cy="199.9" r="2.55"/>
<circle cx="308.4" cy="197.4" r="2.55"/>
<circle cx="316.6" cy="180.9" r="2.55"/>
<circle cx="328.4" cy="132.3" r="2.55"/>
<circle cx="326.7" cy="143.3" r="2.55"/>
<circle cx="331.2" cy="158.6" r="2.55"/>
<circle cx="334.2" cy="158.6" r="2.55"/>
<circle cx="330.4" cy="179.6" r="2.55"/>
<circle cx="327.9" cy="185.4" r="2.55"/>
<circle cx="329.2" cy="197.4" r="2.55"/>
<circle cx="352.5" cy="108.4" r="2.55"/>
<circle cx="349.5" cy="129" r="2.55"/>
<circle cx="350.5" cy="151.1" r="2.55"/>
<circle cx="346.7" cy="178.6" r="2.55"/>
<circle cx="350.5" cy="178.6" r="2.55"/>
<circle cx="344.2" cy="192.4" r="2.55"/>
<circle cx="304.1" cy="213.7" r="2.55"/>
<circle cx="309.1" cy="216.2" r="2.55"/>
<circle cx="293.3" cy="220" r="2.55"/>
<circle cx="299.1" cy="231" r="2.55"/>
<circle cx="314.1" cy="226.8" r="2.55"/>
<circle cx="323.4" cy="219.2" r="2.55"/>
<circle cx="327.9" cy="211.2" r="2.55"/>
<circle cx="331.7" cy="215.5" r="2.55"/>
<circle cx="339.7" cy="213.7" r="2.55"/>
<circle cx="348.5" cy="211.2" r="2.55"/>
<circle cx="343.7" cy="220" r="2.55"/>
<circle cx="322.9" cy="228" r="2.55"/>
<circle cx="329.2" cy="226.8" r="2.55"/>
<circle cx="337.9" cy="233" r="2.55"/>
<circle cx="341.2" cy="228.8" r="2.55"/>
<circle cx="345.5" cy="236.8" r="2.55"/>
<circle cx="351.7" cy="233.8" r="2.55"/>
<circle cx="326.7" cy="245.6" r="2.55"/>
<circle cx="336.7" cy="248.8" r="2.55"/>
<circle cx="307.9" cy="249.8" r="2.55"/>
<circle cx="300.3" cy="258.1" r="2.55"/>
<circle cx="346.7" cy="246.1" r="2.55"/>
<circle cx="355.5" cy="250.1" r="2.55"/>
<circle cx="346.7" cy="261.9" r="2.55"/>
<circle cx="350.5" cy="260.6" r="2.55"/>
<circle cx="355.5" cy="259.4" r="2.55"/>
<circle cx="374.3" cy="67.1" r="2.55"/>
<circle cx="394.3" cy="68.1" r="2.55"/>
<circle cx="410.6" cy="65.1" r="2.55"/>
<circle cx="419.4" cy="63.1" r="2.55"/>
<circle cx="427.4" cy="65.1" r="2.55"/>
<circle cx="442.5" cy="69.3" r="2.55"/>
<circle cx="460.8" cy="66.3" r="2.55"/>
<circle cx="472.8" cy="61.8" r="2.55"/>
<circle cx="483.3" cy="63.3" r="2.55"/>
<circle cx="490.4" cy="59.1" r="2.55"/>
<circle cx="510.9" cy="62.6" r="2.55"/>
<circle cx="520.2" cy="59.1" r="2.55"/>
<circle cx="536.0" cy="65.6" r="2.55"/>
<circle cx="363.5" cy="80.1" r="2.55"/>
<circle cx="371.8" cy="80.6" r="2.55"/>
<circle cx="374.8" cy="78.9" r="2.55"/>
<circle cx="383.1" cy="76.3" r="2.55"/>
<circle cx="394.3" cy="78.1" r="2.55"/>
<circle cx="398.6" cy="78.9" r="2.55"/>
<circle cx="413.7" cy="75.1" r="2.55"/>
<circle cx="418.2" cy="72.1" r="2.55"/>
<circle cx="431.5" cy="73.3" r="2.55"/>
<circle cx="442.0" cy="74.6" r="2.55"/>
<circle cx="441.5" cy="78.9" r="2.55"/>
<circle cx="459.5" cy="81.4" r="2.55"/>
<circle cx="469.1" cy="74.3" r="2.55"/>
<circle cx="474.6" cy="80.1" r="2.55"/>
<circle cx="483.3" cy="80.1" r="2.55"/>
<circle cx="490.1" cy="71.3" r="2.55"/>
<circle cx="490.1" cy="74.3" r="2.55"/>
<circle cx="501.4" cy="80.9" r="2.55"/>
<circle cx="363.5" cy="87.6" r="2.55"/>
<circle cx="380.6" cy="93.1" r="2.55"/>
<circle cx="392.3" cy="86.4" r="2.55"/>
<circle cx="409.4" cy="85.6" r="2.55"/>
<circle cx="425.2" cy="84.4" r="2.55"/>
<circle cx="426.9" cy="92.6" r="2.55"/>
<circle cx="429.4" cy="93.9" r="2.55"/>
<circle cx="433.2" cy="90.1" r="2.55"/>
<circle cx="437.7" cy="88.9" r="2.55"/>
<circle cx="443.7" cy="93.1" r="2.55"/>
<circle cx="454.5" cy="87.6" r="2.55"/>
<circle cx="468.3" cy="90.1" r="2.55"/>
<circle cx="466.5" cy="94.7" r="2.55"/>
<circle cx="469.6" cy="87.6" r="2.55"/>
<circle cx="490.9" cy="92.1" r="2.55"/>
<circle cx="395.6" cy="98.2" r="2.55"/>
<circle cx="405.6" cy="99.4" r="2.55"/>
<circle cx="409.4" cy="96.4" r="2.55"/>
<circle cx="410.6" cy="105.7" r="2.55"/>
<circle cx="418.2" cy="105.7" r="2.55"/>
<circle cx="428.9" cy="100.9" r="2.55"/>
<circle cx="371.8" cy="105.9" r="2.55"/>
<circle cx="463.3" cy="105.7" r="2.55"/>
<circle cx="486.4" cy="100.9" r="2.55"/>
<circle cx="504.2" cy="106.4" r="2.55"/>
<circle cx="374.3" cy="110.9" r="2.55"/>
<circle cx="396.9" cy="112.7" r="2.55"/>
<circle cx="399.4" cy="115.7" r="2.55"/>
<circle cx="403.1" cy="110.2" r="2.55"/>
<circle cx="420.7" cy="112.2" r="2.55"/>
<circle cx="409.4" cy="117.7" r="2.55"/>
<circle cx="441.5" cy="115.7" r="2.55"/>
<circle cx="446.2" cy="108.2" r="2.55"/>
<circle cx="454.5" cy="108.9" r="2.55"/>
<circle cx="461.5" cy="115.7" r="2.55"/>
<circle cx="469.1" cy="110.2" r="2.55"/>
<circle cx="488.4" cy="114.5" r="2.55"/>
<circle cx="499.6" cy="116.5" r="2.55"/>
<circle cx="519.2" cy="115.7" r="2.55"/>
<circle cx="430.7" cy="124.0" r="2.55"/>
<circle cx="431.5" cy="129.0" r="2.55"/>
<circle cx="448.2" cy="120.7" r="2.55"/>
<circle cx="457.0" cy="121.5" r="2.55"/>
<circle cx="461.5" cy="125.2" r="2.55"/>
<circle cx="465.8" cy="122.2" r="2.55"/>
<circle cx="471.6" cy="121.5" r="2.55"/>
<circle cx="477.1" cy="120.7" r="2.55"/>
<circle cx="482.8" cy="122.7" r="2.55"/>
<circle cx="485.9" cy="119.5" r="2.55"/>
<circle cx="495.4" cy="125.2" r="2.55"/>
<circle cx="411.9" cy="128.5" r="2.55"/>
<circle cx="403.9" cy="129.5" r="2.55"/>
<circle cx="372.3" cy="134.0" r="2.55"/>
<circle cx="416.9" cy="133.5" r="2.55"/>
<circle cx="422.4" cy="134.8" r="2.55"/>
<circle cx="447.0" cy="131.5" r="2.55"/>
<circle cx="447.0" cy="135.8" r="2.55"/>
<circle cx="470.8" cy="134.8" r="2.55"/>
<circle cx="400.1" cy="139.8" r="2.55"/>
<circle cx="440.7" cy="141.5" r="2.55"/>
<circle cx="448.2" cy="142.3" r="2.55"/>
<circle cx="360.5" cy="144.8" r="2.55"/>
<circle cx="416.9" cy="148.3" r="2.55"/>
<circle cx="420.7" cy="151.6" r="2.55"/>
<circle cx="437.5" cy="147.3" r="2.55"/>
<circle cx="434.5" cy="152.1" r="2.55"/>
<circle cx="469.6" cy="145.8" r="2.55"/>
<circle cx="493.4" cy="146.5" r="2.55"/>
<circle cx="525.5" cy="150.8" r="2.55"/>
<circle cx="398.9" cy="153.3" r="2.55"/>
<circle cx="403.9" cy="154.8" r="2.55"/>
<circle cx="360.5" cy="153.3" r="2.55"/>
<circle cx="452.8" cy="156.1" r="2.55"/>
<circle cx="363.5" cy="163.6" r="2.55"/>
<circle cx="373.0" cy="162.8" r="2.55"/>
<circle cx="383.1" cy="160.3" r="2.55"/>
<circle cx="399.4" cy="164.6" r="2.55"/>
<circle cx="402.6" cy="166.6" r="2.55"/>
<circle cx="417.4" cy="166.6" r="2.55"/>
<circle cx="424.9" cy="164.6" r="2.55"/>
<circle cx="435.0" cy="170.9" r="2.55"/>
<circle cx="467.0" cy="162.8" r="2.55"/>
<circle cx="467.0" cy="166.1" r="2.55"/>
<circle cx="490.4" cy="169.6" r="2.55"/>
<circle cx="495.9" cy="168.6" r="2.55"/>
<circle cx="377.3" cy="170.4" r="2.55"/>
<circle cx="384.8" cy="169.1" r="2.55"/>
<circle cx="363.5" cy="172.1" r="2.55"/>
<circle cx="396.9" cy="176.1" r="2.55"/>
<circle cx="418.9" cy="176.1" r="2.55"/>
<circle cx="413.2" cy="179.1" r="2.55"/>
<circle cx="360.5" cy="179.6" r="2.55"/>
<circle cx="374.3" cy="181.6" r="2.55"/>
<circle cx="380.6" cy="184.9" r="2.55"/>
<circle cx="386.3" cy="180.4" r="2.55"/>
<circle cx="390.6" cy="184.6" r="2.55"/>
<circle cx="401.1" cy="181.6" r="2.55"/>
<circle cx="396.9" cy="186.7" r="2.55"/>
<circle cx="364.3" cy="193.7" r="2.55"/>
<circle cx="373.0" cy="197.9" r="2.55"/>
<circle cx="398.1" cy="195.4" r="2.55"/>
<circle cx="416.9" cy="195.4" r="2.55"/>
<circle cx="428.2" cy="191.2" r="2.55"/>
<circle cx="437.7" cy="189.2" r="2.55"/>
<circle cx="445.0" cy="197.2" r="2.55"/>
<circle cx="400.1" cy="205.5" r="2.55"/>
<circle cx="425.2" cy="206.7" r="2.55"/>
<circle cx="378.1" cy="209.2" r="2.55"/>
<circle cx="381.1" cy="211.7" r="2.55"/>
<circle cx="429.4" cy="213.0" r="2.55"/>
<circle cx="437.0" cy="209.7" r="2.55"/>
<circle cx="360.5" cy="213.0" r="2.55"/>
<circle cx="363.5" cy="221.2" r="2.55"/>
<circle cx="375.0" cy="218.5" r="2.55"/>
<circle cx="430.7" cy="220.5" r="2.55"/>
<circle cx="393.1" cy="220.0" r="2.55"/>
<circle cx="373.0" cy="226.8" r="2.55"/>
<circle cx="386.8" cy="225.5" r="2.55"/>
<circle cx="405.6" cy="226.8" r="2.55"/>
<circle cx="413.2" cy="224.8" r="2.55"/>
<circle cx="421.4" cy="226.0" r="2.55"/>
<circle cx="454.5" cy="225.5" r="2.55"/>
<circle cx="363.5" cy="233.8" r="2.55"/>
<circle cx="375.5" cy="236.8" r="2.55"/>
<circle cx="379.8" cy="242.6" r="2.55"/>
<circle cx="389.3" cy="239.8" r="2.55"/>
<circle cx="395.6" cy="239.8" r="2.55"/>
<circle cx="387.6" cy="246.1" r="2.55"/>
<circle cx="404.4" cy="231.8" r="2.55"/>
<circle cx="406.9" cy="235.0" r="2.55"/>
<circle cx="411.9" cy="239.3" r="2.55"/>
<circle cx="415.7" cy="240.6" r="2.55"/>
<circle cx="428.9" cy="235.0" r="2.55"/>
<circle cx="363.5" cy="240.6" r="2.55"/>
<circle cx="361.8" cy="250.1" r="2.55"/>
<circle cx="368.0" cy="249.3" r="2.55"/>
<circle cx="376.8" cy="249.3" r="2.55"/>
<circle cx="388.1" cy="248.8" r="2.55"/>
<circle cx="400.6" cy="249.3" r="2.55"/>
<circle cx="404.9" cy="246.8" r="2.55"/>
<circle cx="394.3" cy="253.6" r="2.55"/>
<circle cx="434.5" cy="253.6" r="2.55"/>
<circle cx="420.7" cy="258.9" r="2.55"/>
<circle cx="366.8" cy="262.4" r="2.55"/>
<circle cx="388.8" cy="260.1" r="2.55"/>
<circle cx="402.6" cy="263.9" r="2.55"/>
<circle cx="411.9" cy="265.1" r="2.55"/>
<circle cx="252" cy="284" r="2.55"/>
<circle cx="301.1" cy="310.3" r="2.55"/>
<circle cx="317.4" cy="270.2" r="2.55"/>
<circle cx="321.6" cy="286.5" r="2.55"/>
<circle cx="325.4" cy="311.6" r="2.55"/>
<circle cx="334.2" cy="296.5" r="2.55"/>
<circle cx="336.7" cy="292.8" r="2.55"/>
<circle cx="337.9" cy="282.7" r="2.55"/>
<circle cx="345.5" cy="301.5" r="2.55"/>
<circle cx="351.7" cy="311.6" r="2.55"/>
<circle cx="350.5" cy="289" r="2.55"/>
<circle cx="334.2" cy="270.2" r="2.55"/>
<circle cx="340.4" cy="273.5" r="2.55"/>
<circle cx="336.7" cy="331.6" r="2.55"/>
<circle cx="309.9" cy="352.2" r="2.55"/>
<circle cx="293.3" cy="354.7" r="2.55"/>
<circle cx="302.3" cy="363.7" r="2.55"/>
<circle cx="274.5" cy="373.7" r="2.55"/>
<circle cx="287.3" cy="378.7" r="2.55"/>
<circle cx="342.9" cy="351.2" r="2.55"/>
<circle cx="351.7" cy="355.9" r="2.55"/>
<circle cx="326.2" cy="383.8" r="2.55"/>
<circle cx="330.4" cy="396" r="2.55"/>
<circle cx="340.4" cy="393.8" r="2.55"/>
<circle cx="329.2" cy="413.1" r="2.55"/>
<circle cx="276.5" cy="412.6" r="2.55"/>
<circle cx="287.8" cy="409.3" r="2.55"/>
<circle cx="295.8" cy="411.3" r="2.55"/>
<circle cx="310.4" cy="418.1" r="2.55"/>
<circle cx="304.6" cy="421.9" r="2.55"/>
<circle cx="306.6" cy="424.4" r="2.55"/>
<circle cx="310.9" cy="426.9" r="2.55"/>
<circle cx="213.8" cy="416.1" r="2.55"/>
<circle cx="288.1" cy="438.5" r="2.55"/>
<circle cx="320.2" cy="446.1" r="2.55"/>
<circle cx="286.3" cy="460.4" r="2.55"/>
<circle cx="370.5" cy="274.5" r="2.55"/>
<circle cx="396.4" cy="276" r="2.55"/>
<circle cx="370.5" cy="284" r="2.55"/>
<circle cx="368" cy="288.2" r="2.55"/>
<circle cx="371" cy="292.2" r="2.55"/>
<circle cx="381.8" cy="289" r="2.55"/>
<circle cx="400.1" cy="291.5" r="2.55"/>
<circle cx="388.1" cy="299.8" r="2.55"/>
<circle cx="399.9" cy="305.3" r="2.55"/>
<circle cx="369.3" cy="307" r="2.55"/>
<circle cx="379.8" cy="310.3" r="2.55"/>
<circle cx="166.5" cy="176.5" r="2.55"/>
</g>
<g fill="#fbf03a" stroke="#6b6420" stroke-width="0.7">
<circle cx="377.2" cy="344.2" r="2.7"/>
<circle cx="296.2" cy="470.4" r="2.7"/>
<circle cx="231.5" cy="500.6" r="2.7"/>
<circle cx="250.3" cy="516.1" r="2.7"/>
<circle cx="229.5" cy="525" r="2.7"/>
<circle cx="247.8" cy="532" r="2.7"/>
<circle cx="269.2" cy="535.3" r="2.7"/>
<circle cx="227.8" cy="550.1" r="2.7"/>
<circle cx="207" cy="552.9" r="2.7"/>
<circle cx="220.7" cy="564.4" r="2.7"/>
<circle cx="261.6" cy="574" r="2.7"/>
<circle cx="211.5" cy="582" r="2.7"/>
<circle cx="227.8" cy="581.5" r="2.7"/>
<circle cx="229.5" cy="618.3" r="2.7"/>
<circle cx="218.2" cy="626.1" r="2.7"/>
<circle cx="237" cy="637.9" r="2.7"/>
<circle cx="178.9" cy="622.3" r="2.7"/>
<circle cx="183.1" cy="639.1" r="2.7"/>
<circle cx="169.6" cy="693.6" r="2.7"/>
<circle cx="199.4" cy="699.3" r="2.7"/>
<circle cx="217" cy="707.6" r="2.7"/>
<circle cx="192" cy="733.5" r="2.7"/>
<circle cx="202" cy="747.7" r="2.7"/>
<circle cx="180.2" cy="789.6" r="2.7"/>
</g>
<circle cx="249.1" cy="443.6" r="4.6" fill="#2467e6" stroke="#17408f" stroke-width="0.9"/><circle cx="249.1" cy="443.6" r="1.2" fill="#000"/>
<circle cx="245.3" cy="461.1" r="4.6" fill="#2467e6" stroke="#17408f" stroke-width="0.9"/><circle cx="245.3" cy="461.1" r="1.2" fill="#000"/>
<circle cx="234.8" cy="480.9" r="4.6" fill="#2467e6" stroke="#17408f" stroke-width="0.9"/><circle cx="234.8" cy="480.9" r="1.2" fill="#000"/>
<circle cx="265.4" cy="487.9" r="4.6" fill="#2467e6" stroke="#17408f" stroke-width="0.9"/><circle cx="265.4" cy="487.9" r="1.2" fill="#000"/>
<circle cx="178.4" cy="557.3" r="4.3" fill="#3fe23a" stroke="#1f8a1c" stroke-width="0.9"/><circle cx="178.4" cy="557.3" r="1.2" fill="#000"/>
<circle cx="167.1" cy="588.5" r="4.3" fill="#3fe23a" stroke="#1f8a1c" stroke-width="0.9"/><circle cx="167.1" cy="588.5" r="1.2" fill="#000"/>
<circle cx="158.9" cy="755.4" r="7.3" fill="none" stroke="#000" stroke-width="1.5"/><circle cx="158.9" cy="755.4" r="2.7" fill="#000"/>
<circle cx="135.8" cy="832.3" r="7.3" fill="none" stroke="#000" stroke-width="1.5"/><circle cx="135.8" cy="832.3" r="2.7" fill="#000"/>
<rect x="515.8" y="402.2" width="187.9" height="63.9" fill="#fff" stroke="#2a2a2a" stroke-width="1.4"/>
<line x1="515.6" y1="442.3" x2="703.8" y2="442.3" stroke="#222" stroke-width="1.3"/>
<line x1="612.8" y1="442.3" x2="612.8" y2="465.4" stroke="#222" stroke-width="1.3"/>
<text x="607.6" y="419" text-anchor="middle" font-size="18.2" font-weight="bold" fill="#111">Tartan Mine</text>
<text x="609.7" y="436.6" text-anchor="middle" font-size="13.8" font-weight="bold" fill="#111">Main Zone Longsection</text>
<text x="535.4" y="459.2" font-size="12.5" fill="#222">Feb 2025</text>
<text x="630.6" y="459.2" font-size="12.5" fill="#222">1 : 4,500</text>
<rect x="515" y="469" width="188.7" height="437.3" fill="#fff" stroke="#444" stroke-width="1.6"/>
<line x1="705.1" y1="469" x2="705.1" y2="910" stroke="#b5b5b5" stroke-width="0.9"/>
<text x="520.7" y="489.6" font-size="16.5" font-weight="bold" fill="#111">Drill Holes</text>
<circle cx="544.4" cy="513.5" r="2.1" fill="#000"/>
<text class="l" x="577.8" y="519.2">Historic</text>
<circle cx="544.4" cy="545.9" r="2.7" fill="#fbf03a" stroke="#6b6420" stroke-width="0.7"/>
<text class="l" x="577.8" y="552.1">2021 - 2025</text>
<circle cx="544.4" cy="578.9" r="4.4" fill="#2467e6" stroke="#17408f" stroke-width="0.9"/><circle cx="544.4" cy="578.9" r="1.1" fill="#000"/>
<text class="l" x="577.8" y="583.9">Previous Release</text>
<circle cx="544.4" cy="611.5" r="4.2" fill="#3fe23a" stroke="#1f8a1c" stroke-width="0.9"/><circle cx="544.4" cy="611.5" r="1.1" fill="#000"/>
<text class="l" x="577.8" y="616.3">This Release</text>
<text x="520.7" y="646.5" font-size="16.85" font-weight="bold" fill="#111">Grade Thickness</text>
<text x="520.4" y="671.8" font-size="14.4" font-weight="bold" fill="#111">gpt Au x Thickness</text>
<rect x="520.3" y="683.6" width="48.8" height="23.6" fill="#ffffff" stroke="#8a8a8a" stroke-width="1.1"/>
<text x="577.7" y="700.9" font-size="14.2" font-weight="bold" fill="#111">&lt; 5</text>
<rect x="520.3" y="715.9" width="48.8" height="23.6" fill="#bde5dc" stroke="#8a8a8a" stroke-width="1.1"/>
<text x="577.7" y="733.2" font-size="14.2" font-weight="bold" fill="#111">&gt; 5</text>
<rect x="520.3" y="748.2" width="48.8" height="23.6" fill="#fff8c4" stroke="#8a8a8a" stroke-width="1.1"/>
<text x="577.7" y="765.5" font-size="14.2" font-weight="bold" fill="#111">&gt; 10</text>
<rect x="520.3" y="780.5" width="48.8" height="23.6" fill="#f7c990" stroke="#8a8a8a" stroke-width="1.1"/>
<text x="577.7" y="797.8" font-size="14.2" font-weight="bold" fill="#111">&gt; 20</text>
<rect x="520.3" y="812.8" width="48.8" height="23.6" fill="#f2a263" stroke="#8a8a8a" stroke-width="1.1"/>
<text x="577.7" y="830.1" font-size="14.2" font-weight="bold" fill="#111">&gt; 30</text>
<rect x="520.3" y="845.1" width="48.8" height="23.6" fill="#e96a62" stroke="#8a8a8a" stroke-width="1.1"/>
<text x="577.7" y="862.4" font-size="14.2" font-weight="bold" fill="#111">&gt; 40</text>
<rect x="520.3" y="877.4" width="48.8" height="23.6" fill="#ea55dc" stroke="#8a8a8a" stroke-width="1.1"/>
<text x="577.7" y="894.7" font-size="14.2" font-weight="bold" fill="#111">&gt; 100</text>
<rect x="292.5" y="872.8" width="214.7" height="33.5" fill="#fff" stroke="#222" stroke-width="1.2"/>
<rect x="300.3" y="893.8" width="192.0" height="6.1" fill="#fff" stroke="#000" stroke-width="0.8"/>
<rect x="300.3" y="893.8" width="19.2" height="6.1" fill="#000"/>
<rect x="338.7" y="893.8" width="38.4" height="6.1" fill="#000"/>
<rect x="415.5" y="893.8" width="38.4" height="6.1" fill="#000"/>
<text x="299.1" y="888.7" font-size="11.5" text-anchor="middle" fill="#111">0</text>
<text x="318.2" y="888.7" font-size="11.5" text-anchor="middle" fill="#111">25</text>
<text x="337" y="888.7" font-size="11.5" text-anchor="middle" fill="#111">50</text>
<text x="375.8" y="888.7" font-size="11.5" text-anchor="middle" fill="#111">100</text>
<text x="414.8" y="888.7" font-size="11.5" text-anchor="middle" fill="#111">150</text>
<text x="452.8" y="888.7" font-size="11.5" text-anchor="middle" fill="#111">200</text>
<text x="490.8" y="888.7" font-size="11.5" text-anchor="middle" fill="#111">250</text>
<text x="494.4" y="900" font-size="11.5" fill="#111">m</text>
<g>
<path d="M5.9,867.3 C9,866.9 12.6,865.6 13.9,862 L13.9,835.6 L45.6,825.2 L78,835.6 L78.2,862 C79.5,865.6 82.5,866.9 85.4,867.3 L73.5,867.2 C74.6,865.5 75.2,864 75.2,862 L75,837.8 L45.6,828.5 L16.9,837.8 L16.9,862 C16.9,864 17.4,865.5 18,867.3 Z" fill="#111"/>
<path d="M13.7,881.6 L24.2,882.2 Q34,890.5 45.6,899.4 Q57.2,890.5 67.2,882.2 L77.5,881.6 C74,882.5 71,883.6 69.4,885 Q58,894.2 45.6,902.9 Q33.2,894.2 21.8,885 C20.2,883.6 17.2,882.5 13.7,881.6 Z" fill="#111"/>
<polygon points="27.9,852.5 28.3,846.6 33.4,848.3 35.5,847.5 38.9,848.7 39.3,843.2 41.0,843.7 41.8,840.3 43.1,840.7 45.6,835.0 48.1,840.7 49.4,840.3 50.2,843.7 51.9,843.2 52.3,848.7 55.7,847.5 57.8,848.3 62.9,846.6 63.3,852.5" fill="#c9923e"/>
<text x="45.7" y="864.5" font-size="11.4" font-weight="bold" fill="#1a1a1a" text-anchor="middle" textLength="47.2" lengthAdjust="spacingAndGlyphs">CANADIAN</text>
<text transform="translate(8.9,878.4) scale(0.62,1)" font-size="10.6" font-weight="bold" fill="#c9a66f">G</text>
<text transform="translate(18.2,878.4) scale(0.62,1)" font-size="10.6" font-weight="bold" fill="#c9a66f">O</text>
<text transform="translate(28,878.4) scale(0.62,1)" font-size="10.6" font-weight="bold" fill="#c9a66f">L</text>
<text transform="translate(35.6,878.4) scale(0.62,1)" font-size="10.6" font-weight="bold" fill="#c9a66f">D</text>
<text transform="translate(50.7,878.4) scale(0.62,1)" font-size="10.6" font-weight="bold" fill="#c9a66f">C</text>
<text transform="translate(59.2,878.4) scale(0.62,1)" font-size="10.6" font-weight="bold" fill="#c9a66f">O</text>
<text transform="translate(68.6,878.4) scale(0.62,1)" font-size="10.6" font-weight="bold" fill="#c9a66f">R</text>
<text transform="translate(77.4,878.4) scale(0.62,1)" font-size="10.6" font-weight="bold" fill="#c9a66f">P</text>
</g>
</svg></body></html>
